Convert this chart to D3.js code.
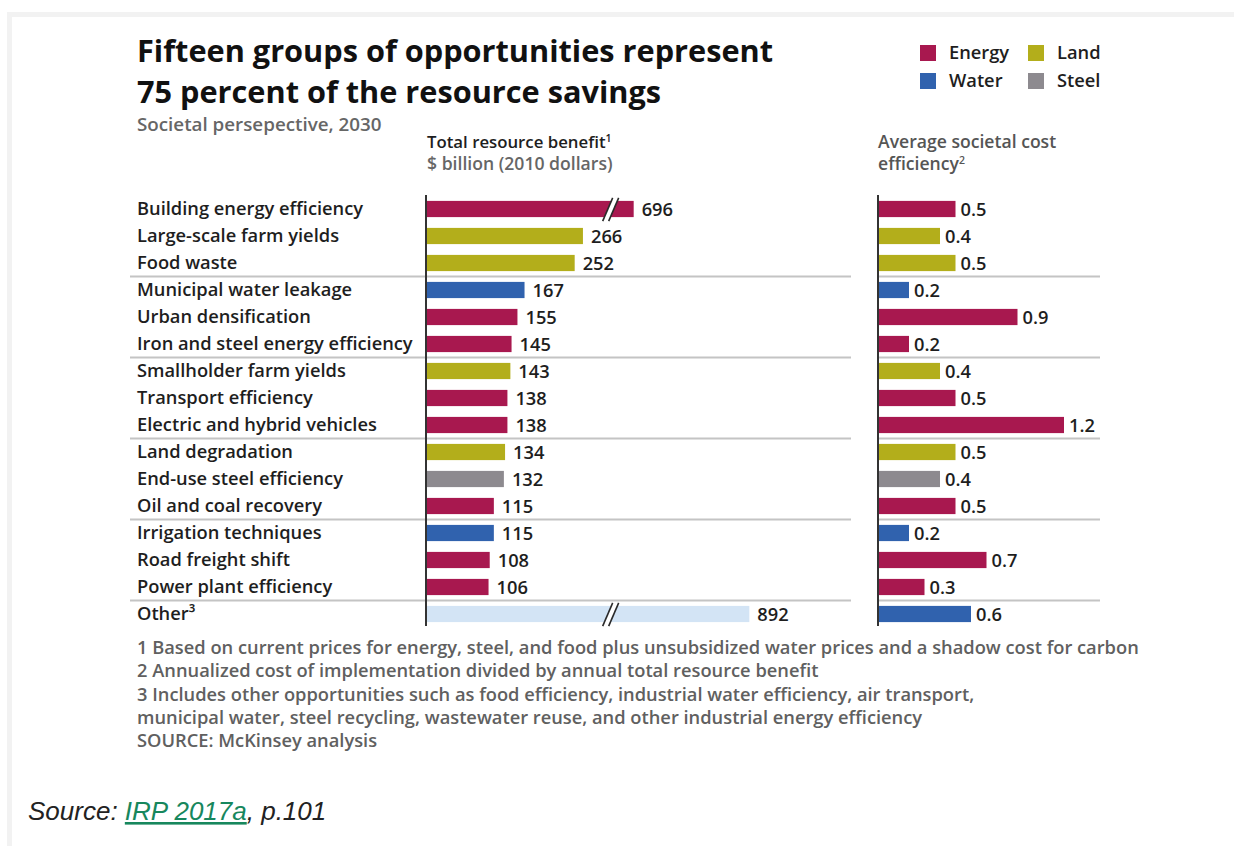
<!DOCTYPE html>
<html>
<head>
<meta charset="utf-8">
<script src="https://cdn.jsdelivr.net/npm/d3@7"></script>
<style>
  html, body { margin: 0; padding: 0; background: #fff; }
  svg { display: block; }
  text { font-family: "Open Sans", Lato, sans-serif; }
  text.source { font-family: "Liberation Sans", Arial, sans-serif; font-style: italic; }
</style>
</head>
<body>
<script>
// Opportunity groups, resource type, total benefit ($bn) and cost efficiency
const categories = [
  "Building energy efficiency", "Large-scale farm yields", "Food waste",
  "Municipal water leakage", "Urban densification", "Iron and steel energy efficiency",
  "Smallholder farm yields", "Transport efficiency", "Electric and hybrid vehicles",
  "Land degradation", "End-use steel efficiency", "Oil and coal recovery",
  "Irrigation techniques", "Road freight shift", "Power plant efficiency", "Other³"
];
const resources = [
  "Energy", "Land", "Land", "Water", "Energy", "Energy", "Land", "Energy", "Energy",
  "Land", "Steel", "Energy", "Water", "Energy", "Energy", "Other"
];
const benefit = [696, 266, 252, 167, 155, 145, 143, 138, 138, 134, 132, 115, 115, 108, 106, 892];
const efficiency = [0.5, 0.4, 0.5, 0.2, 0.9, 0.2, 0.4, 0.5, 1.2, 0.5, 0.4, 0.5, 0.2, 0.7, 0.3, 0.6];
const legendItems = ["Energy", "Land", "Water", "Steel"];
const footnotes = [
  "1 Based on current prices for energy, steel, and food plus unsubsidized water prices and a shadow cost for carbon",
  "2 Annualized cost of implementation divided by annual total resource benefit",
  "3 Includes other opportunities such as food efficiency, industrial water efficiency, air transport,",
  "municipal water, steel recycling, wastewater reuse, and other industrial energy efficiency",
  "SOURCE: McKinsey analysis"
];
// The benefit axis is broken: the span between these values is skipped
const axisBreak = [313, 657];

const W = 1234, H = 846;
const colors = {
  Energy: "#a8184f", Land: "#b3ae1b", Water: "#3062ae", Steel: "#8d8a8f", Other: "#d3e4f5"
};
const rightColor = r => r === "Other" ? colors.Water : colors[r];
const LABEL = 18.3, LABEL_W = 600;

const svg = d3.select("body").append("svg").attr("width", W).attr("height", H);

// page frame
svg.append("rect").attr("x", 7).attr("y", 12).attr("width", W - 7).attr("height", H - 12).attr("fill", "#f2f2f2");
svg.append("rect").attr("x", 12).attr("y", 17).attr("width", W - 12).attr("height", H - 17).attr("fill", "#fff");

// rows
const y = d3.scaleBand().domain(categories).range([195.5, 627.5]).paddingInner(0.4).paddingOuter(0.2);
const bh = y.bandwidth();

// left panel: piecewise scale with a skipped span
const k = 0.59, x0L = 426;
const xL = d3.scaleLinear()
  .domain([0, axisBreak[0], axisBreak[1], 1000])
  .range([x0L, x0L + k * axisBreak[0], x0L + k * axisBreak[0], x0L + k * (1000 - (axisBreak[1] - axisBreak[0]))]);
// right panel
const xR = d3.scaleLinear().domain([0, 1.2]).range([878, 1064]);

// separators between groups of three
const sepIdx = [2, 5, 8, 11, 14];
sepIdx.forEach(i => {
  const yy = y(categories[i]) + bh + (y.step() - bh) / 2;
  svg.append("line").attr("x1", 130).attr("x2", 851).attr("y1", yy).attr("y2", yy)
    .attr("stroke", "#c4c4c4").attr("stroke-width", 2);
  svg.append("line").attr("x1", 878).attr("x2", 1100).attr("y1", yy).attr("y2", yy)
    .attr("stroke", "#c4c4c4").attr("stroke-width", 2);
});

const rows = categories.map((c, i) => ({ c, r: resources[i], b: benefit[i], e: efficiency[i] }));

// category labels
svg.append("g").selectAll("text").data(rows).join("text")
  .attr("x", 137).attr("y", d => y(d.c) + bh / 2)
  .attr("dy", "0.35em").attr("font-size", LABEL).attr("font-weight", LABEL_W).attr("fill", "#1e1e1e")
  .text(d => d.c);

// left bars
svg.append("g").selectAll("rect").data(rows).join("rect")
  .attr("x", xL(0)).attr("y", d => y(d.c)).attr("height", bh)
  .attr("width", d => xL(d.b) - xL(0)).attr("fill", d => colors[d.r]);

// break marks on bars beyond the skipped span
const brk = svg.append("g");
rows.filter(d => d.b > axisBreak[1]).forEach(d => {
  const cx = xL(axisBreak[0]);
  const top = y(d.c) - 3, bot = y(d.c) + bh + 4;
  const slant = 5;
  brk.append("polygon")
    .attr("points", [[cx - slant - 3, bot], [cx + slant - 3, top], [cx + slant + 3, top], [cx - slant + 3, bot]].join(" "))
    .attr("fill", "#fff");
  [-3, 3].forEach(o => {
    brk.append("line").attr("x1", cx - slant + o).attr("y1", bot).attr("x2", cx + slant + o).attr("y2", top)
      .attr("stroke", "#2a2a2a").attr("stroke-width", 1.6);
  });
});

// left value labels
svg.append("g").selectAll("text").data(rows).join("text")
  .attr("x", d => xL(d.b) + 8).attr("y", d => y(d.c) + bh / 2 + 1)
  .attr("dy", "0.35em").attr("font-size", LABEL).attr("font-weight", LABEL_W).attr("fill", "#1e1e1e")
  .text(d => d3.format("d")(d.b));

// right bars
svg.append("g").selectAll("rect").data(rows).join("rect")
  .attr("x", xR(0)).attr("y", d => y(d.c)).attr("height", bh)
  .attr("width", d => xR(d.e) - xR(0)).attr("fill", d => rightColor(d.r));

svg.append("g").selectAll("text").data(rows).join("text")
  .attr("x", d => xR(d.e) + 5).attr("y", d => y(d.c) + bh / 2 + 1)
  .attr("dy", "0.35em").attr("font-size", LABEL).attr("font-weight", LABEL_W).attr("fill", "#1e1e1e")
  .text(d => d3.format(".1f")(d.e));

// axis lines
[xL(0), xR(0)].forEach(x0 => {
  svg.append("line").attr("x1", x0).attr("x2", x0).attr("y1", 195).attr("y2", 626)
    .attr("stroke", "#333").attr("stroke-width", 2);
});

// title block
const title = svg.append("text").attr("x", 137).attr("font-size", 30.7).attr("font-weight", 700).attr("fill", "#111");
title.append("tspan").attr("x", 137).attr("y", 62).text("Fifteen groups of opportunities represent");
title.append("tspan").attr("x", 137).attr("y", 103).text("75 percent of the resource savings");
svg.append("text").attr("x", 137).attr("y", 131).attr("font-size", 18.8).attr("font-weight", 600)
  .attr("fill", "#666").text("Societal persepective, 2030");

// column headers (two lines each)
const hdrL = svg.append("text").attr("font-weight", 600);
hdrL.append("tspan").attr("x", 427).attr("y", 147.5).attr("font-size", 16.8).attr("fill", "#1e1e1e").text("Total resource benefit");
hdrL.append("tspan").attr("fill", "#1e1e1e").attr("font-size", 10.5).attr("dy", -6).text("1");
hdrL.append("tspan").attr("x", 427).attr("y", 169.5).attr("font-size", 17.6).attr("fill", "#666").text("$ billion (2010 dollars)");
const hdrR = svg.append("text").attr("font-size", 17.6).attr("font-weight", 600).attr("fill", "#555");
hdrR.append("tspan").attr("x", 878).attr("y", 147.5).text("Average societal cost");
hdrR.append("tspan").attr("x", 878).attr("y", 169.5).text("efficiency");
hdrR.append("tspan").attr("font-size", 10.5).attr("dy", -6).text("2");

// legend
const legX = [920, 1028], legY = [45, 73];
legendItems.forEach((key, i) => {
  const lx = legX[i % 2], ly = legY[Math.floor(i / 2)];
  svg.append("rect").attr("x", lx).attr("y", ly).attr("width", 16).attr("height", 16).attr("fill", colors[key]);
  svg.append("text").attr("x", lx + 29).attr("y", ly + 8).attr("dy", "0.35em")
    .attr("font-size", LABEL).attr("font-weight", LABEL_W).attr("fill", "#1e1e1e").text(key);
});

// footnotes
svg.append("g").selectAll("text").data(footnotes).join("text")
  .attr("x", 137).attr("y", (d, i) => 654 + i * 23.3)
  .attr("font-size", 18.3).attr("font-weight", 600).attr("fill", "#606060")
  .text(d => d);

// source line
const src = svg.append("text").attr("class", "source").attr("x", 28).attr("y", 820)
  .attr("font-size", 26).attr("fill", "#222");
src.append("tspan").text("Source: ");
src.append("tspan").attr("fill", "#17875d").attr("text-decoration", "underline").text("IRP 2017a");
src.append("tspan").text(", p.101");
</script>
</body>
</html>
